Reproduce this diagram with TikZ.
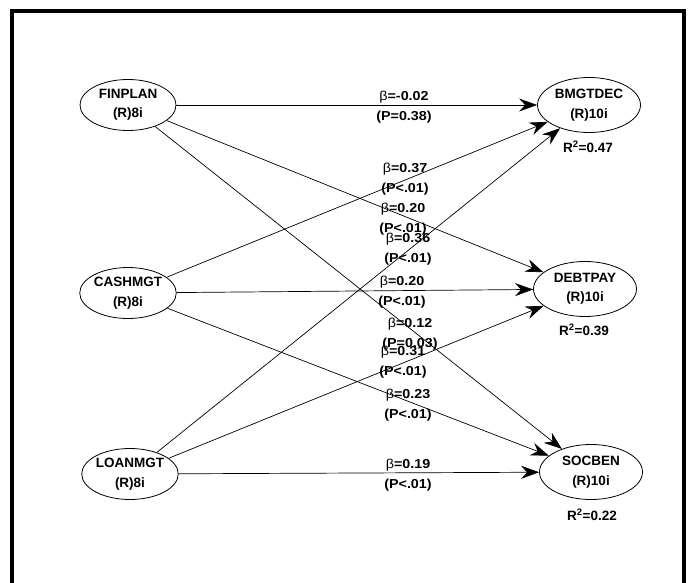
\documentclass[tikz,border=0pt]{standalone}
\usepackage{fontspec}
\setmainfont{Liberation Sans}
\newfontfamily\coeffont[FakeStretch=1.1]{Liberation Sans}
\usetikzlibrary{shapes.geometric,arrows.meta}

\begin{document}
\begin{tikzpicture}[x=1pt,y=-1pt,
  latent/.style={ellipse,draw,line width=0.8pt,inner sep=0pt,
    minimum width=96pt,minimum height=51pt,align=center,
    font=\fontsize{13.5}{19.5}\selectfont\bfseries},
  latentR/.style={latent,minimum width=103pt,minimum height=55pt},
  pathline/.style={line width=0.7pt,-{Stealth[length=18pt,width=13pt,inset=6pt]}},
  coef/.style={align=center,inner sep=0pt,
    font=\coeffont\fontsize{13}{20}\selectfont\bfseries},
  rsq/.style={inner sep=0pt,font=\fontsize{13.5}{15}\selectfont\bfseries}]

\useasboundingbox (0,0) rectangle (691,583);
\fill[white] (0,0) rectangle (691,583);
\clip (0,0) rectangle (691,583);

% frame
\draw[line width=3.5pt] (12,600) -- (12,11) -- (684,11) -- (684,600);

% exogenous constructs
\node[latent] (fin)  at (128,105) {FINPLAN\\(R)8i};
\node[latent] (cash) at (128,293) {CASHMGT\\(R)8i};
\node[latent] (loan) at (130,474) {LOANMGT\\(R)8i};

% endogenous constructs
\node[latentR] (bm)  at (589,105) {BMGTDEC\\(R)10i};
\node[latentR] (dp)  at (585,289) {DEBTPAY\\(R)10i};
\node[latentR] (sb)  at (591,472) {SOCBEN\\(R)10i};

\node[rsq] (r1) at (588,147) {R\textsuperscript{2}=0.47};
\node[rsq] (r2) at (584,330) {R\textsuperscript{2}=0.39};
\node[rsq] (r3) at (592,515) {R\textsuperscript{2}=0.22};

% structural paths
\draw[pathline] (fin) -- (bm);
\draw[pathline] (fin) -- (dp);
\draw[pathline] (fin) -- (sb);
\draw[pathline] (cash) -- (bm);
\draw[pathline] (cash) -- (dp);
\draw[pathline] (cash) -- (sb);
\draw[pathline] (loan) -- (bm);
\draw[pathline] (loan) -- (dp);
\draw[pathline] (loan) -- (sb);

% path coefficients
\node[coef] (c1) at (404,107) {{\mdseries β}=-0.02\\(P=0.38)};
\node[coef] (c2) at (405,179) {{\mdseries β}=0.37\\(P<.01)};
\node[coef] (c3) at (403,219) {{\mdseries β}=0.20\\(P<.01)};
\node[coef] (c4) at (408,249) {{\mdseries β}=0.36\\(P<.01)};
\node[coef] (c5) at (402,292) {{\mdseries β}=0.20\\(P<.01)};
\node[coef] (c6) at (410,334) {{\mdseries β}=0.12\\(P=0.03)};
\node[coef] (c7) at (403,362) {{\mdseries β}=0.31\\(P<.01)};
\node[coef] (c8) at (408,405) {{\mdseries β}=0.23\\(P<.01)};
\node[coef] (c9) at (408,475) {{\mdseries β}=0.19\\(P<.01)};
\end{tikzpicture}
\end{document}
